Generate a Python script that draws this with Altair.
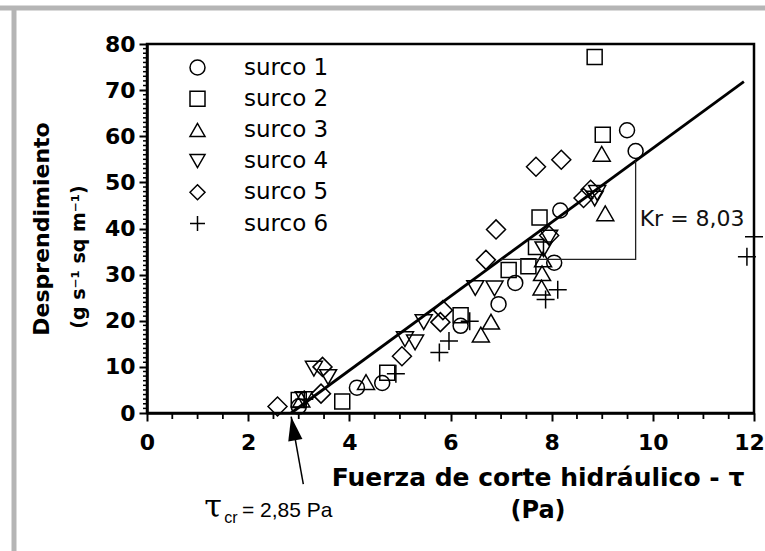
import altair as alt
import pandas as pd
import numpy as np

# Hydraulic shear stress (Pa) and detachment rate (g s-1 sq m-1) per furrow
s1_x = [3.00, 4.15, 4.65, 6.20, 6.95, 7.28, 8.05, 8.17, 9.49, 9.66]
s1_y = [1.4, 5.5, 6.5, 18.9, 23.6, 28.2, 32.6, 43.9, 61.3, 56.8]

s2_x = [3.00, 3.86, 4.75, 6.20, 7.15, 7.54, 7.69, 7.76, 9.01, 8.85]
s2_y = [2.8, 2.5, 8.7, 21.2, 31.0, 31.8, 36.0, 42.4, 60.3, 77.2]

s3_x = [3.05, 4.33, 6.60, 6.80, 7.80, 7.81, 7.83, 8.99, 9.06]
s3_y = [2.9, 6.7, 17.0, 19.8, 27.2, 30.3, 33.3, 56.2, 43.3]

s4_x = [3.10, 3.30, 3.58, 5.10, 5.30, 5.47, 6.49, 6.87, 7.84, 7.95, 8.85, 8.90]
s4_y = [3.0, 9.6, 7.8, 16.0, 15.3, 19.7, 27.1, 27.0, 35.5, 38.0, 46.5, 47.7]

s5_x = [2.58, 3.44, 3.47, 5.04, 5.80, 5.85, 6.70, 6.90, 7.69, 8.19, 8.63, 8.77, 7.95]
s5_y = [1.4, 4.2, 10.0, 12.3, 19.7, 22.3, 33.2, 39.8, 53.4, 54.9, 46.6, 48.4, 38.5]

s6_x = [3.11, 4.92, 5.78, 5.97, 6.38, 7.88, 8.12, 11.86, 12.00]
s6_y = [3.0, 8.5, 13.1, 15.6, 19.9, 24.6, 26.7, 33.9, 38.2]

names = ["surco 1", "surco 2", "surco 3", "surco 4", "surco 5", "surco 6"]

# Fitted detachment model: D = Kr * (tau - tau_cr)
tau_cr = 2.85
kr = 8.03
fit_end = 11.8

x_ticks = [0, 2, 4, 6, 8, 10, 12]
y_ticks = [0, 10, 20, 30, 40, 50, 60, 70, 80]

# ---------------------------------------------------------------------------
series = list(zip(names, [s1_x, s2_x, s3_x, s4_x, s5_x, s6_x],
                  [s1_y, s2_y, s3_y, s4_y, s5_y, s6_y]))
points_df = pd.DataFrame(
    [{"surco": n, "tau": a, "desp": b} for n, xs_, ys_ in series for a, b in zip(xs_, ys_)]
)

PLUS = "M-1,0L1,0M0,-1L0,1"
shapes = ["circle", "square", "triangle-up", "triangle-down", "diamond", PLUS]
sizes = [225, 225, 289, 289, 361, 324]
size_expr = " : ".join(
    f"datum.surco == '{n}' ? {s}" for n, s in zip(names[:-1], sizes[:-1])
) + f" : {sizes[-1]}"

W, H = 607, 369
FONT = "DejaVu Sans"
xsc = alt.Scale(domain=[0, 12], nice=False, zero=False)
ysc = alt.Scale(domain=[0, 80], nice=False)

# the last x label sits against the page edge, so nudge it inwards a little
last_x_nudge = {"condition": {"test": f"datum.value == {x_ticks[-1]}", "value": -5}, "value": 0}

x_axis = alt.Axis(values=x_ticks, format="d", title=None, grid=False,
                  labelFont=FONT, labelFontWeight="bold", labelFontSize=22,
                  labelColor="black", labelPadding=11, labelFlush=False,
                  labelOverlap=False, labelOffset=last_x_nudge,
                  tickSize=8, tickWidth=2, tickColor="black",
                  domainColor="black", domainWidth=2.5)
y_axis = alt.Axis(values=y_ticks, format="d", title=None, grid=False,
                  labelFont=FONT, labelFontWeight="bold", labelFontSize=22,
                  labelColor="black", labelPadding=4, labelFlush=False,
                  labelOverlap=False, tickSize=8, tickWidth=2, tickColor="black",
                  domainColor="black", domainWidth=2.5)


def X(field, **kw):
    return alt.X(field, scale=xsc, axis=x_axis, **kw)


def Y(field, **kw):
    return alt.Y(field, scale=ysc, axis=y_axis, **kw)


legend = alt.Legend(orient="none", legendX=39, legendY=12, title=None,
                    labelFont=FONT, labelFontSize=23, labelColor="black",
                    symbolSize=225, symbolStrokeWidth=1.5, symbolStrokeColor="black",
                    rowPadding=7.2, labelOffset=35, padding=0)

points = alt.Chart(points_df).transform_calculate(sz=size_expr).mark_point(
    filled=False, color="black", strokeWidth=1.5, opacity=1
).encode(
    x=X("tau:Q"),
    y=Y("desp:Q"),
    shape=alt.Shape("surco:N", scale=alt.Scale(domain=names, range=shapes), legend=legend),
    size=alt.Size("sz:Q", scale=None),
)

# Minor ticks
x_minor = pd.DataFrame({"tau": [v for v in np.arange(0.5, 12, 0.5) if v % 2 != 0]})
y_minor = pd.DataFrame({"desp": [v for v in range(1, 80) if v % 10 != 0]})
x_minor_marks = alt.Chart(x_minor).mark_rule(color="black", strokeWidth=1.8).encode(
    x=X("tau:Q"), y=alt.value(H), y2=alt.value(H + 6))
y_minor_marks = alt.Chart(y_minor).mark_rule(color="black", strokeWidth=1.5).encode(
    y=Y("desp:Q"), x=alt.value(0), x2=alt.value(-4))

# Regression line
fit_df = pd.DataFrame({"tau": [tau_cr, fit_end]})
fit_df["desp"] = kr * (fit_df["tau"] - tau_cr)
fit_line = alt.Chart(fit_df).mark_line(color="black", strokeWidth=2.8).encode(
    x=X("tau:Q"), y=Y("desp:Q"))

# Slope triangle with its label
tri_y = 33.3
tri_xr = 9.66
tri_df = pd.DataFrame({
    "tau": [tau_cr + tri_y / kr, tri_xr, tri_xr],
    "desp": [tri_y, tri_y, kr * (tri_xr - tau_cr)],
    "o": [0, 1, 2],
})
tri = alt.Chart(tri_df).mark_line(color="#222222", strokeWidth=1.3).encode(
    x=X("tau:Q"), y=Y("desp:Q"), order="o:Q")
kr_text = alt.Chart(pd.DataFrame({"tau": [tri_xr + 0.08], "desp": [42.0],
                                  "t": ["Kr = " + f"{kr:.2f}".replace(".", ",")]})
                    ).mark_text(align="left", baseline="middle", font=FONT,
                                fontSize=22, color="#111111").encode(
    x=X("tau:Q"), y=Y("desp:Q"), text="t:N")

# Arrow pointing at the critical shear stress
arrow_df = pd.DataFrame({"tau": [tau_cr + 0.24], "desp": [-15.4],
                         "tau2": [tau_cr], "desp2": [-0.8]})
arrow_shaft = alt.Chart(arrow_df).mark_rule(color="black", strokeWidth=1.5).encode(
    x=X("tau:Q"), y=Y("desp:Q"), x2="tau2:Q", y2="desp2:Q")
arrow_head = alt.Chart(arrow_df).mark_point(
    shape="M0,0L0.6,2L-0.6,2Z", filled=True, color="black", opacity=1,
    size=576, angle=350, strokeWidth=0
).encode(x=X("tau2:Q"), y=Y("desp2:Q"))

one = pd.DataFrame({"k": [0]})


def label(text, x, y, size, weight="normal", angle=0, align="center", font=FONT):
    return alt.Chart(one).mark_text(
        text=text, font=font, fontSize=size, fontWeight=weight, angle=angle,
        align=align, baseline="middle", color="black"
    ).encode(x=alt.value(x), y=alt.value(y))


tau_label = (
    label("τ", 66, 463, 32, font="DejaVu Serif")
    + label("cr", 84, 474, 16, font="Liberation Sans")
    + label("= " + f"{tau_cr:.2f}".replace(".", ",") + " Pa", 95, 467, 21,
            align="left", font="Liberation Sans")
)

titles = (
    label("Fuerza de corte hidráulico - τ", 391, 434, 25, weight="bold")
    + label("(Pa)", 391, 467, 24, weight="bold")
    + label("Desprendimiento", -105, 185, 22, weight="bold", angle=270)
    + label("(g s⁻¹ sq m⁻¹)", -68, 213, 19, weight="bold", angle=270)
)

# Light grey page border
frame = (
    alt.Chart(one).mark_rule(color="#b5b5b5", strokeWidth=5).encode(
        x=alt.value(-147), x2=alt.value(W + 11), y=alt.value(-36))
    + alt.Chart(one).mark_rule(color="#b5b5b5", strokeWidth=5).encode(
        x=alt.value(-133), y=alt.value(-38), y2=alt.value(H + 138))
)

chart = alt.layer(
    points, frame, x_minor_marks, y_minor_marks, fit_line, tri, kr_text,
    arrow_shaft, arrow_head, tau_label, titles
).properties(
    width=W, height=H,
    padding={"left": 147, "top": 44, "right": 11, "bottom": 138},
    autosize=alt.AutoSizeParams(type="none"),
    background="white",
).configure_view(
    stroke="black", strokeWidth=2.5
)

chart.save("out.html", embed_options={"renderer": "svg", "actions": False})
